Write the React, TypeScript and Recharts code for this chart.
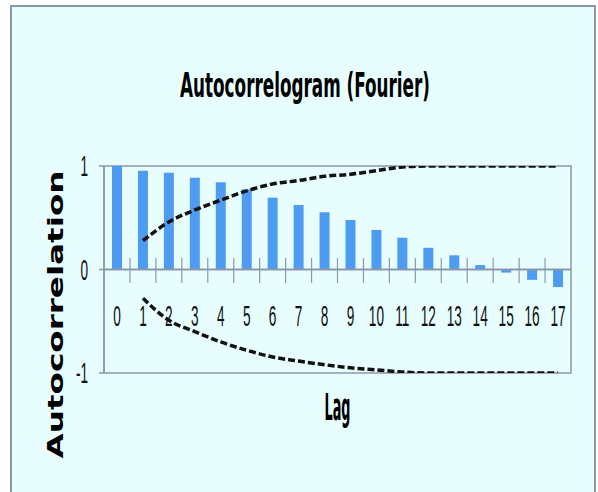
import React from 'react';
import { ComposedChart, Bar, Line, XAxis, YAxis, ReferenceArea, ReferenceLine, Label } from 'recharts';

const lags = [0, 1, 2, 3, 4, 5, 6, 7, 8, 9, 10, 11, 12, 13, 14, 15, 16, 17];
const acf = [1.0, 0.955, 0.935, 0.887, 0.843, 0.775, 0.694, 0.623, 0.553, 0.478, 0.382, 0.307, 0.21, 0.137, 0.043, -0.03, -0.1, -0.17];
const upperBand = [null, 0.278, 0.46, 0.575, 0.67, 0.76, 0.826, 0.86, 0.9, 0.92, 0.955, 0.99, 1.0, 1.0, 1.0, 1.0, 1.0, 1.0];
const lowerBand = [null, -0.278, -0.49, -0.6, -0.7, -0.78, -0.845, -0.885, -0.92, -0.95, -0.97, -0.99, -1.0, -1.0, -1.0, -1.0, -1.0, -1.0];
const yTicks = [-1, 0, 1];
const chartTitle = 'Autocorrelogram (Fourier)';
const xTitle = 'Lag';
const yTitle = 'Autocorrelation';

const data = lags.map((lag, i) => ({ lag, acf: acf[i], upper: upperBand[i], lower: lowerBand[i] }));
const boundaries = lags.slice(0, lags.length - 1).map((l) => l + 0.5);

const AXIS = '#8A97AC';
const BG = '#E8FEFE';
const NUM_FONT = "'Liberation Sans', Arial, sans-serif";
const NARROW_BOLD = "'Liberation Sans Narrow', 'DejaVu Sans Condensed', 'Liberation Sans', sans-serif";

const XTick = (props: any) => {
  const { x, y, payload } = props;
  return (
    <g transform={`translate(${x},${y - 57}) scale(0.47,1)`}>
      <text x={0} y={0} textAnchor="middle" dominantBaseline="central" fontFamily={NUM_FONT} fontSize={29} fill="#111">
        {payload.value}
      </text>
    </g>
  );
};

const YTick = (props: any) => {
  const { x, y, payload } = props;
  return (
    <g transform={`translate(${x},${y}) scale(0.47,1)`}>
      <text x={0} y={0} textAnchor="end" dominantBaseline="central" fontFamily={NUM_FONT} fontSize={29} fill="#111">
        {payload.value}
      </text>
    </g>
  );
};

const XLabel = (props: any) => {
  const vb = props.viewBox;
  return (
    <text x={vb.x + vb.width / 2} y={vb.y + 47} textAnchor="middle" fontFamily={NARROW_BOLD} fontWeight="bold" fontSize={37} textLength={26} lengthAdjust="spacingAndGlyphs" fill="#000">
      {xTitle}
    </text>
  );
};

const YLabel = (props: any) => {
  const vb = props.viewBox;
  const cx = vb.x - 1;
  const cy = vb.y + vb.height / 2 + 45;
  return (
    <text transform={`translate(${cx},${cy}) rotate(-90)`} x={0} y={0} textAnchor="middle" fontFamily="'DejaVu Sans', Verdana, sans-serif" fontWeight="bold" fontSize={21} textLength={288} lengthAdjust="spacingAndGlyphs" fill="#000">
      {yTitle}
    </text>
  );
};

export default function App() {
  return (
    <div style={{ position: 'fixed', left: 0, top: 0, width: 598, height: 492, background: '#fff', overflow: 'hidden' }}>
      <div style={{ position: 'absolute', left: 10, top: 5, width: 586, height: 500, border: `2px solid ${AXIS}`, background: BG, boxSizing: 'border-box' }} />
      <svg width={598} height={492} style={{ position: 'absolute', left: 0, top: 0 }}>
        <text x={305} y={97} textAnchor="middle" fontFamily={NARROW_BOLD} fontWeight="bold" fontSize={34} textLength={250} lengthAdjust="spacingAndGlyphs" fill="#000">
          {chartTitle}
        </text>
      </svg>
      <div style={{ position: 'absolute', left: 0, top: 0 }}>
        <ComposedChart width={598} height={492} data={data} margin={{ top: 166, right: 27, bottom: 59, left: 64 }}>
          <ReferenceArea x1={-0.5} x2={17.5} y1={-1} y2={1} fill="none" fillOpacity={0} stroke={AXIS} strokeWidth={1.5} ifOverflow="visible" />
          <XAxis dataKey="lag" type="number" domain={[-0.5, 17.5]} ticks={lags} interval={0} axisLine={false} tickLine={false} tickSize={0} tickMargin={0} height={60} tick={<XTick />} allowDataOverflow>
            <Label content={<XLabel />} />
          </XAxis>
          <YAxis type="number" domain={[-1, 1]} ticks={yTicks} width={40} axisLine={{ stroke: AXIS, strokeWidth: 1.5 }} tickLine={{ stroke: AXIS, strokeWidth: 1.5 }} tickSize={5} tickMargin={11} tick={<YTick />} allowDataOverflow>
            <Label content={<YLabel />} />
          </YAxis>
          <Bar dataKey="acf" fill="#4D9CF2" barSize={10} isAnimationActive={false} />
          <ReferenceLine y={0} stroke={AXIS} strokeWidth={2} />
          {boundaries.map((b) => (
            <ReferenceLine key={b} segment={[{ x: b, y: 0.11 }, { x: b, y: -0.13 }]} stroke={AXIS} strokeWidth={1.2} />
          ))}
          <Line dataKey="upper" type="monotone" stroke="#111" strokeWidth={3.5} strokeDasharray="7 3" dot={false} activeDot={false} isAnimationActive={false} />
          <Line dataKey="lower" type="monotone" stroke="#111" strokeWidth={3.5} strokeDasharray="7 3" dot={false} activeDot={false} isAnimationActive={false} />
        </ComposedChart>
      </div>
    </div>
  );
}
